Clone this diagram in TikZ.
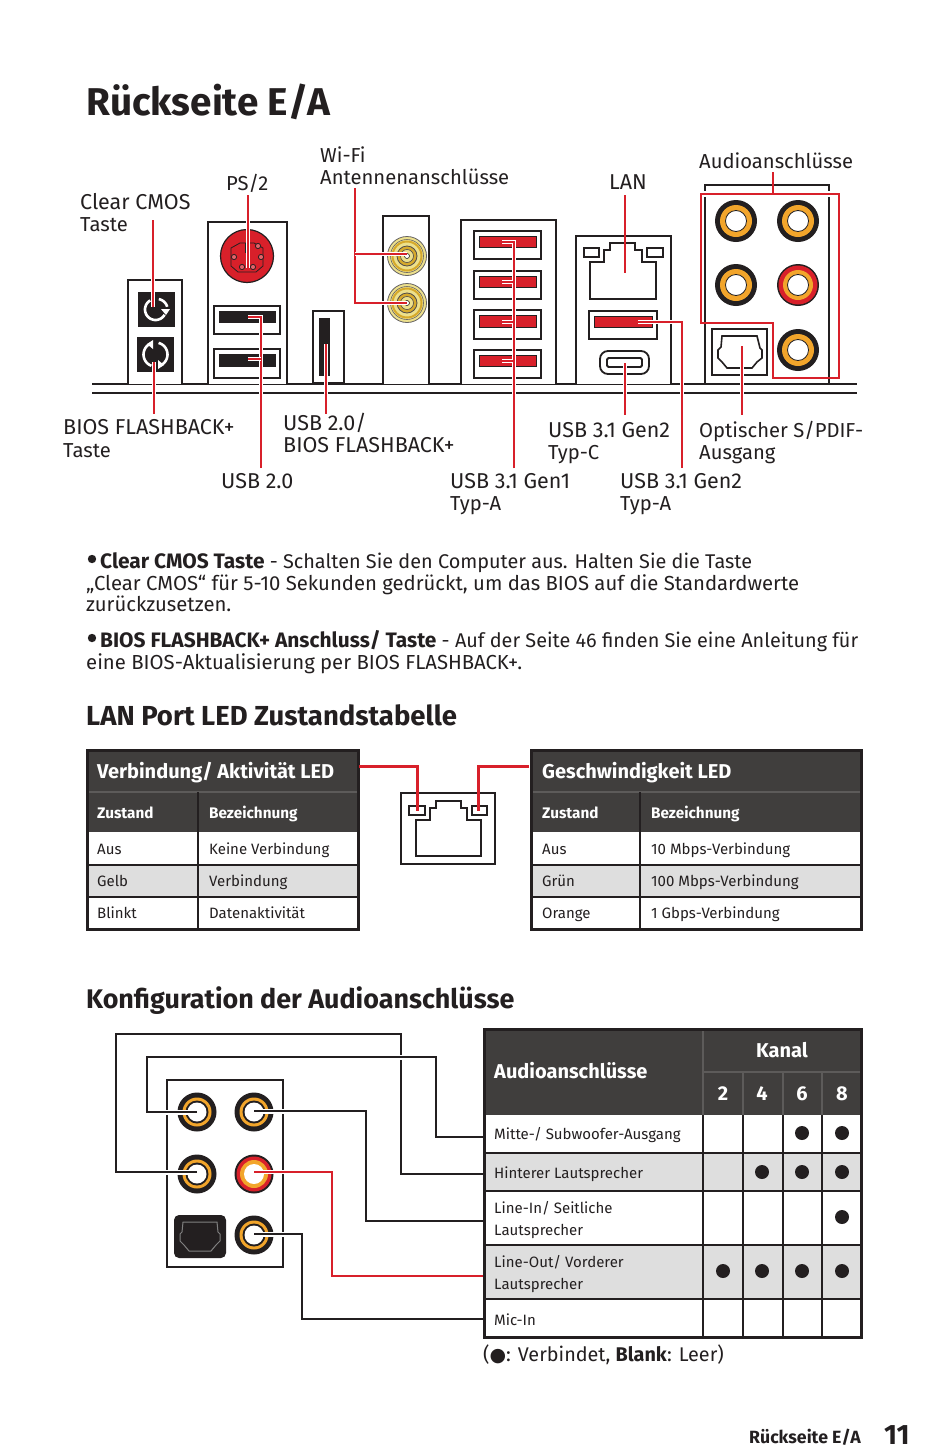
\documentclass[tikz,border=0pt]{standalone}
\usepackage{fontspec}
\setmainfont{Fira Sans}
\newfontfamily\symfont{DejaVu Sans}
\definecolor{mred}{HTML}{D8202A}
\definecolor{ink}{HTML}{231F20}
\definecolor{dark}{HTML}{403E3D}
\definecolor{rowg}{HTML}{DEDEDE}
\definecolor{jor}{HTML}{F2A52B}
\definecolor{ant}{HTML}{EDE08C}
\definecolor{antd}{HTML}{D6A92B}
\newcommand{\bp}[1]{{\fontsize{20.9}{24}\bfseries\selectfont #1}}
\tikzset{
 txt/.style={inner sep=0pt,anchor=base west,text=ink,font=\fontsize{20.2}{24}\selectfont},
 capt/.style={txt,font=\fontsize{21.5}{24}\selectfont},
 para/.style={txt,font=\fontsize{20.3}{24}\selectfont},
 paras/.style={txt,font=\fontsize{19.85}{24}\selectfont},
 cell/.style={txt,font=\fontsize{15}{20}\selectfont},
 hcell/.style={inner sep=0pt,anchor=base west,text=white,font=\fontsize{15.3}{20}\bfseries\selectfont},
 hhead/.style={inner sep=0pt,anchor=base west,text=white,font=\fontsize{20}{24}\bfseries\selectfont},
 sect/.style={txt,font=\fontsize{27.5}{32}\bfseries\selectfont},
 redline/.style={draw=mred,line width=2.8pt,preaction={draw=white,line width=4.6pt}},
 blkline/.style={draw=ink,line width=2.8pt,preaction={draw=white,line width=5pt}},
 panel/.style={draw=ink,line width=2.2pt,fill=white},
 tbl/.style={draw=ink,line width=3pt},
 sep/.style={draw=ink,line width=1.2pt},
}
\newcommand{\jackbig}[2]{%
 \fill[ink] (#1,#2) circle (21pt);
 \fill[jor] (#1,#2) circle (16pt);
 \filldraw[fill=white,draw=ink,line width=.8pt] (#1,#2) circle (10.5pt);}
\newcommand{\jackred}[2]{%
 \fill[ink] (#1,#2) circle (21pt);
 \fill[mred] (#1,#2) circle (19.5pt);
 \fill[jor] (#1,#2) circle (15pt);
 \filldraw[fill=white,draw=ink,line width=.8pt] (#1,#2) circle (10.5pt);}
\newcommand{\jacksm}[3]{%
 \fill[ink] (#1,#2) circle (19.5pt);
 \fill[#3] (#1,#2) circle (14.5pt);
 \fill[ink] (#1,#2) circle (11.5pt);
 \fill[white] (#1,#2) circle (9.5pt);}
\newcommand{\antenna}[2]{%
 \filldraw[fill=ant,draw=ink!70,line width=.8pt] (#1,#2) circle (19.5pt);
 \draw[antd,line width=2pt] (#1,#2) circle (14.5pt);
 \draw[ink!70,line width=.6pt] (#1,#2) circle (16.5pt);
 \filldraw[fill=antd,draw=ink!80,line width=.8pt] (#1,#2) circle (10pt);
 \filldraw[fill=ant,draw=ink!80,line width=.6pt] (#1,#2) circle (6.5pt);
 \filldraw[fill=white,draw=ink,line width=.6pt] (#1,#2) circle (2.5pt);}
\newcommand{\usbport}[5]{% x1 x2 y1 y2 fill
 \draw[draw=ink,line width=1.8pt,fill=white] (#1,#3) rectangle (#2,#4);
 \filldraw[fill=#5,draw=ink,line width=1.4pt] ({#1+5.5},{#3+5.5}) rectangle ({#2-4.5},{#4-11.5});}
\begin{document}
\begin{tikzpicture}[x=1pt,y=-1pt]
\useasboundingbox (0,0) rectangle (950,1456);
\fill[white] (0,0) rectangle (950,1456);
% title
\node[txt,font=\fontsize{38.7}{46}\bfseries\selectfont] (title) at (86,115) {Rückseite E/A};
% ground
\coordinate (g1a) at (92,384); \coordinate (g1b) at (857,384);
\coordinate (g2a) at (92,393); \coordinate (g2b) at (857,393);
\draw[ink,line width=1.8pt] (g1a)--(g1b) (g2a)--(g2b);
% CMOS block
\draw[panel] (128,384)--(128,280)--(182,280)--(182,384);
\fill[ink] (138,292) rectangle (175,327);
\fill[ink] (137,337) rectangle (174,372);
\draw[white,line width=2.6pt] plot[domain=120:330,samples=24] ({155.5+10.5*cos(\x)},{309.5-10.5*sin(\x)});
\draw[white,line width=2.6pt] plot[domain=80:15,samples=12] ({157+10.5*cos(\x)},{309.5-10.5*sin(\x)});
\fill[white] (161,309) -- (170,309) -- (166,315) -- cycle;
\draw[white,line width=2.6pt] plot[domain=105:250,samples=18] ({155.5+12*cos(\x)},{354.5-12*sin(\x)});
\draw[white,line width=2.6pt] plot[domain=-70:75,samples=18] ({155.5+12*cos(\x)},{354.5-12*sin(\x)});
\fill[white] (153,340) -- (153,349) -- (147,344) -- cycle;
\fill[white] (158,360) -- (158,369) -- (164,365) -- cycle;
% PS/2
\draw[panel] (208,384)--(208,222)--(287,222)--(287,384);
\filldraw[fill=mred,draw=ink,line width=1.2pt] (247,256) circle (26.5pt);
\draw[ink,line width=.8pt] (231,266)--(231,248)--(240,243)--(254,243)--(263,248)--(263,266)--(256,272)--(238,272)--cycle;
\foreach \p/\q in {234/257,261/257,258/246,242/267,253/267}{\filldraw[fill=mred!70!white,draw=ink,line width=.8pt] (\p,\q) circle (2.6pt);}
\draw[ink,line width=.8pt] (245,243) rectangle (249,252);
\usbport{214}{280}{306}{334}{ink}
\usbport{214}{280}{349}{378}{ink}
% USB2/BIOS
\draw[panel] (313,383)--(313,311)--(344,311)--(344,383)--cycle;
\fill[ink] (319,318) rectangle (330,376);
% WiFi
\draw[panel] (383,384)--(383,216)--(429,216)--(429,384);
\antenna{407}{256}
\antenna{407}{303}
% USB 3.1 Gen1
\draw[panel,line width=2.8pt] (461,384)--(461,220)--(556,220)--(556,384);
\usbport{474}{541}{231}{259}{mred}
\usbport{474}{541}{271}{299}{mred}
\usbport{474}{541}{310}{339}{mred}
\usbport{474}{541}{350}{378}{mred}
% LAN block
\draw[panel] (576,384)--(576,236)--(671,236)--(671,384);
\draw[ink,line width=1.8pt] (590,299)--(590,262)--(604,262)--(604,250)--(610,250)--(610,243)--(635,243)--(635,250)--(642,250)--(642,262)--(656,262)--(656,299)--cycle;
\draw[ink,line width=1.6pt] (584,248) rectangle (599,257);
\draw[ink,line width=1.6pt] (647,248) rectangle (663,257);
\usbport{589}{657}{311}{339}{mred}
\draw[ink,line width=1.8pt,rounded corners=8pt] (600,351) rectangle (649,374);
\draw[ink,line width=1.8pt,rounded corners=1.5pt] (607,358) rectangle (642,367);
% Audio block
\draw[ink,line width=2.2pt] (705,191)--(705,185)--(829,185)--(829,191);
\draw[ink,line width=2.2pt] (705,197)--(705,384) (829,197)--(829,384);
\jackbig{736}{221}
\jackbig{798}{221}
\jackbig{736}{285}
\jackred{798}{285}
\jackbig{798}{350}
\draw[ink,line width=1.6pt] (712,329) rectangle (767,375);
\draw[ink,line width=1.6pt] (722,336)--(757,336)--(760,348)--(762,350)--(762,358)--(757,362)--(752,368)--(727,368)--(722,362)--(718,358)--(718,350)--(721,347)--cycle;
% red polygon
\coordinate (au1) at (701,194); \coordinate (au2) at (839,194); \coordinate (au3) at (839,378);
\coordinate (au4) at (773,378); \coordinate (au5) at (773,323); \coordinate (au6) at (701,323);
\draw[draw=mred,line width=2.8pt] (au1)--(au2)--(au3)--(au4)--(au5)--(au6)--cycle;
% labels top
\node[capt] (lcmos1) at (80,209) {Clear CMOS};
\node[txt] (lcmos2) at (80,231) {Taste};
\node[txt] (lps) at (226,190) {PS/2};
\node[txt] (lwifi1) at (320,162) {Wi-Fi};
\node[txt] (lwifi2) at (320,184) {Antennenanschlüsse};
\node[capt] (llan) at (609,189) {LAN};
\node[txt] (laudio) at (699,168) {Audioanschlüsse};
\node[capt] (lbf1) at (63,434) {BIOS FLASHBACK+};
\node[txt] (lbf2) at (63,457) {Taste};
\node[capt] (lub1) at (283,430) {USB 2.0/};
\node[capt] (lub2) at (283,452) {BIOS FLASHBACK+};
\node[capt] (lu20) at (221,488) {USB 2.0};
\node[capt] (lg1a) at (450,488) {USB 3.1 Gen1};
\node[txt] (lg1b) at (450,510) {Typ-A};
\node[capt] (lcc1) at (548,437) {USB 3.1 Gen2};
\node[txt] (lcc2) at (548,459) {Typ-C};
\node[capt] (lg2a) at (620,488) {USB 3.1 Gen2};
\node[txt] (lg2b) at (620,510) {Typ-A};
\node[txt] (lop1) at (699,437) {Optischer S/PDIF-};
\node[txt] (lop2) at (699,459) {Ausgang};
% red leaders
\coordinate (c1) at (153,220); \coordinate (c2) at (153,307);
\draw[redline] (c1)--(c2);
\coordinate (b1) at (154,362); \coordinate (b2) at (154,414);
\draw[redline] (b1)--(b2);
\coordinate (p1) at (248,195); \coordinate (p2) at (248,268);
\draw[redline] (p1)--(p2);
\coordinate (u1) at (261,468); \coordinate (u2) at (261,317); \coordinate (u3) at (248,317);
\coordinate (u4) at (261,359); \coordinate (u5) at (248,359);
\draw[redline] (u1)--(u2)--(u3);
\draw[redline] (u4)--(u5);
\coordinate (ub1) at (326,344); \coordinate (ub2) at (326,414);
\draw[redline] (ub1)--(ub2);
\coordinate (w1) at (355,188); \coordinate (w2) at (355,303); \coordinate (w3) at (407,303);
\coordinate (w4) at (355,254); \coordinate (w5) at (407,254);
\draw[redline] (w1)--(w2)--(w3);
\draw[redline] (w4)--(w5);
\coordinate (g1) at (514,468); \coordinate (g2) at (514,242); \coordinate (g3) at (502,242);
\draw[redline] (g1)--(g2)--(g3);
\foreach \n/\yy in {k1/282,k2/322,k3/361}{
 \coordinate (\n a) at (514,\yy); \coordinate (\n b) at (502,\yy);
 \draw[redline] (\n a)--(\n b);}
\draw[draw=mred,line width=2.8pt] (g1)--(g2);
\coordinate (l1) at (625,195); \coordinate (l2) at (625,273);
\draw[draw=mred,line width=2.8pt] (l1)--(l2);
\coordinate (h1) at (638,322); \coordinate (h2) at (682,322); \coordinate (h3) at (682,468);
\draw[redline] (h1)--(h2)--(h3);
\coordinate (tc1) at (625,363); \coordinate (tc2) at (625,415);
\draw[redline] (tc1)--(tc2);
\coordinate (op1) at (742,346); \coordinate (op2) at (742,415);
\draw[redline] (op1)--(op2);
\coordinate (au0) at (773,172); \coordinate (auT) at (773,194);
\draw[draw=mred,line width=2.8pt] (au0)--(auT);
% paragraphs
\fill[ink] (92,559) coordinate (bl1) circle (4.2pt);
\node[paras] (p1a) at (100,568) {\bp{Clear CMOS Taste} - Schalten Sie den Computer aus. Halten Sie die Taste};
\node[para] (p1b) at (86,590) {„Clear CMOS“ für 5-10 Sekunden gedrückt, um das BIOS auf die Standardwerte};
\node[para] (p1c) at (86,611) {zurückzusetzen.};
\fill[ink] (92,638) coordinate (bl2) circle (4.2pt);
\node[paras] (p2a) at (100,647) {\bp{BIOS FLASHBACK+ Anschluss/ Taste} - Auf der Seite 46 finden Sie eine Anleitung für};
\node[para] (p2b) at (86,669) {eine BIOS-Aktualisierung per BIOS FLASHBACK+.};
% LAN section
\node[sect] (s1) at (86,725) {LAN Port LED Zustandstabelle};
% left table
\fill[dark] (87,750) rectangle (358,832);
\fill[rowg] (87,865) rectangle (358,897);
\draw[sep,draw=white!15!dark] (87,792)--(358,792);
\draw[sep] (87,865)--(358,865) (87,897)--(358,897);
\draw[sep,draw=ink] (198,792)--(198,929);
\draw[tbl] (87,750) rectangle (358,929);
\node[hhead] (a0) at (97,778) {Verbindung/ Aktivität LED};
\node[hcell] (a1) at (97,818) {Zustand};
\node[hcell] (a2) at (209,818) {Bezeichnung};
\node[cell] (a3) at (97,854) {Aus};
\node[cell] (a4) at (209,854) {Keine Verbindung};
\node[cell] (a5) at (97,886) {Gelb};
\node[cell] (a6) at (209,886) {Verbindung};
\node[cell] (a7) at (97,918) {Blinkt};
\node[cell] (a8) at (209,918) {Datenaktivität};
% right table
\fill[dark] (531,750) rectangle (861,832);
\fill[rowg] (531,865) rectangle (861,897);
\draw[sep,draw=white!15!dark] (531,792)--(861,792);
\draw[sep] (531,865)--(861,865) (531,897)--(861,897);
\draw[sep,draw=ink] (640,792)--(640,929);
\draw[tbl] (531,750) rectangle (861,929);
\node[hhead] (b0) at (542,778) {Geschwindigkeit LED};
\node[hcell] (bb1) at (542,818) {Zustand};
\node[hcell] (bb2) at (651,818) {Bezeichnung};
\node[cell] (bb3) at (542,854) {Aus};
\node[cell] (bb4) at (651,854) {10 Mbps-Verbindung};
\node[cell] (bb5) at (542,886) {Grün};
\node[cell] (bb6) at (651,886) {100 Mbps-Verbindung};
\node[cell] (bb7) at (542,918) {Orange};
\node[cell] (bb8) at (651,918) {1 Gbps-Verbindung};
% LAN icon
\draw[ink,line width=1.6pt] (401,793) rectangle (495,864);
\draw[ink,line width=1.6pt] (416,856)--(416,820)--(430,820)--(430,808)--(436,808)--(436,801)--(461,801)--(461,808)--(467,808)--(467,820)--(481,820)--(481,856)--cycle;
\draw[ink,line width=1.4pt] (409,806) rectangle (425,815);
\draw[ink,line width=1.4pt] (472,806) rectangle (487,815);
\coordinate (la) at (359,766); \coordinate (lb) at (417,766); \coordinate (lc) at (417,811);
\coordinate (ra) at (529,766); \coordinate (rb) at (478,766); \coordinate (rc) at (478,811);
\draw[draw=mred,line width=3pt] (la)--(lb)--(lc);
\draw[draw=mred,line width=3pt] (ra)--(rb)--(rc);
% Audio section
\node[sect,font=\fontsize{26.9}{32}\bfseries\selectfont] (s2) at (86,1008) {Konfiguration der Audioanschlüsse};
\draw[ink,line width=1.6pt] (167,1080) rectangle (283,1267);
\jacksm{197}{1112}{jor}
\jacksm{254}{1112}{jor}
\jacksm{197}{1174}{jor}
\jacksm{254}{1174}{jor}
\fill[mred] (254,1174) circle (17.5pt);
\fill[jor] (254,1174) circle (14pt);
\fill[white] (254,1174) circle (10pt);
\jacksm{254}{1235}{jor}
\fill[ink,rounded corners=5pt] (174,1215) rectangle (226,1258);
\draw[gray,line width=1pt] (183,1222)--(217,1222)--(218,1232)--(220,1234)--(220,1241)--(216,1245)--(211,1251)--(189,1251)--(184,1245)--(180,1241)--(180,1234)--(182,1232)--cycle;
% audio table
\fill[dark] (484,1029) rectangle (861,1115);
\fill[rowg] (484,1153) rectangle (861,1191);
\fill[rowg] (484,1245) rectangle (861,1299);
\draw[sep] (484,1153)--(861,1153) (484,1191)--(861,1191) (484,1245)--(861,1245) (484,1299)--(861,1299);
\draw[sep,draw=white!15!dark] (703,1072)--(861,1072);
\draw[sep,draw=white!15!dark] (703,1029)--(703,1115) (743,1072)--(743,1115) (783,1072)--(783,1115) (822,1072)--(822,1115);
\draw[sep] (703,1115)--(703,1337) (743,1115)--(743,1337) (783,1115)--(783,1337) (822,1115)--(822,1337);
\draw[tbl] (484,1029) rectangle (861,1337);
\node[inner sep=0pt,anchor=base west,text=white,font=\fontsize{20}{24}\bfseries\selectfont] (h0) at (494,1078) {Audioanschlüsse};
\node[inner sep=0pt,anchor=base,text=white,font=\fontsize{20}{24}\bfseries\selectfont] (h1n) at (782,1057) {Kanal};
\foreach \n/\xx/\tt in {c2/723/2,c4/762/4,c6/802/6,c8/842/8}{
 \node[inner sep=0pt,anchor=base,text=white,font=\fontsize{20}{24}\bfseries\selectfont] (\n) at (\xx,1100) {\tt};}
\node[cell] (r1) at (494,1139) {Mitte-/ Subwoofer-Ausgang};
\node[cell] (r2) at (494,1178) {Hinterer Lautsprecher};
\node[cell] (r3a) at (494,1213) {Line-In/ Seitliche};
\node[cell] (r3b) at (494,1235) {Lautsprecher};
\node[cell] (r4a) at (494,1267) {Line-Out/ Vorderer};
\node[cell] (r4b) at (494,1289) {Lautsprecher};
\node[cell] (r5) at (494,1325) {Mic-In};
\foreach \p/\q in {802/1133,842/1133,762/1172,802/1172,842/1172,842/1217,723/1271,762/1271,802/1271,842/1271}{\fill[ink] (\p,\q) circle (7pt);}
% audio connectors
\coordinate (a1s) at (197,1112); \coordinate (a1e) at (483,1137);
\coordinate (b1s) at (197,1172); \coordinate (b1e) at (483,1174);
\coordinate (c1s) at (254,1111); \coordinate (c1e) at (483,1221);
\coordinate (d1s) at (254,1172); \coordinate (d1e) at (483,1276);
\coordinate (e1s) at (254,1234); \coordinate (e1e) at (483,1319);
\draw[blkline] (b1s)--(116,1172)--(116,1034)--(401,1034)--(401,1174)--(b1e);
\draw[blkline] (a1s)--(147,1112)--(147,1057)--(436,1057)--(436,1137)--(a1e);
\draw[blkline] (c1s)--(366,1111)--(366,1221)--(c1e);
\draw[redline] (d1s)--(332,1172)--(332,1276)--(d1e);
\draw[blkline] (e1s)--(302,1234)--(302,1319)--(e1e);
% legend
\node[txt,font=\fontsize{19.8}{24}\selectfont] (leg) at (483,1361) {({\symfont\fontsize{19}{20}\selectfont ●}: Verbindet, \textbf{Blank}: Leer)};
% footer
\node[txt,font=\fontsize{17.7}{20}\bfseries\selectfont] (f1) at (749,1443) {Rückseite E/A};
\node[txt,font=\fontsize{28}{32}\bfseries\selectfont] (f2) at (884,1444) {11};
\end{tikzpicture}
\end{document}
